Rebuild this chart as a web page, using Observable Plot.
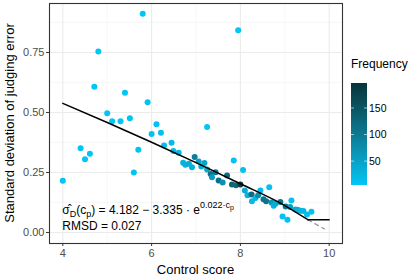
<!DOCTYPE html>
<html><head><meta charset="utf-8">
<script src="https://cdn.jsdelivr.net/npm/d3@7"></script>
<script src="https://cdn.jsdelivr.net/npm/@observablehq/plot@0.6"></script>
<style>
body{margin:0;background:#fff;}
svg{font-family:"Liberation Sans",Arial,sans-serif;}
</style>
</head><body><div id="chart"></div>
<script>
// Observed points: control score, SD of judging error, frequency
const score = [4.00,4.40,4.50,4.61,4.71,4.80,5.00,5.11,5.30,5.40,5.51,5.60,5.70,5.80,5.91,6.00,6.11,6.21,6.28,6.45,6.49,6.61,6.71,6.76,6.84,6.91,6.97,7.06,7.12,7.19,7.25,7.25,7.33,7.36,7.44,7.51,7.60,7.70,7.81,7.85,7.90,7.95,8.00,8.06,8.10,8.16,8.25,8.26,8.34,8.40,8.45,8.52,8.58,8.65,8.70,8.75,8.79,8.90,8.95,9.02,9.06,9.12,9.15,9.24,9.29,9.36,9.42,9.50,9.60];
const sd    = [0.215,0.351,0.305,0.328,0.607,0.754,0.497,0.463,0.463,0.582,0.476,0.250,0.345,0.911,0.543,0.410,0.451,0.415,0.362,0.374,0.339,0.332,0.290,0.282,0.286,0.272,0.314,0.296,0.275,0.289,0.262,0.439,0.244,0.230,0.251,0.217,0.208,0.237,0.200,0.300,0.197,0.843,0.200,0.260,0.175,0.155,0.158,0.130,0.144,0.155,0.175,0.138,0.130,0.188,0.125,0.111,0.120,0.127,0.067,0.108,0.053,0.106,0.133,0.096,0.095,0.090,0.089,0.075,0.086];
const freq  = [5,5,5,5,5,5,6,6,6,6,8,8,8,6,10,10,10,12,15,18,20,22,28,30,35,32,95,50,35,45,40,5,110,55,100,115,70,120,130,10,125,5,190,12,35,28,120,18,25,80,15,105,110,10,65,28,35,115,10,100,10,55,10,40,32,28,22,15,10];

// Fitted curve
const fitX = [4,5,6,7,8,9,9.52];
const fitY = [0.538,0.458,0.376,0.291,0.203,0.112,0.053];
const plateauX = [9.52,10];
const plateauY = [0.053,0.053];
const extrapX = [9.52,9.89];
const extrapY = [0.053,0.015];

const xTicks = [4,6,8,10];
const xMinor = [5,7,9];
const yTicks = [0,0.25,0.5,0.75];
const yMinor = [0.125,0.375,0.625,0.875];
const legendTicks = [50,100,150];

const lowColor = "#00C6F6";
const highColor = "#07353A";
const colorDomain = [5,197];

const pts = score.map((s,i)=>({score:s, sd:sd[i], freq:freq[i]}));
const fit = fitX.map((x,i)=>({x, y:fitY[i]}));
const plateau = plateauX.map((x,i)=>({x, y:plateauY[i]}));
const extrap = extrapX.map((x,i)=>({x, y:extrapY[i]}));

const plot = Plot.plot({
  width: 415, height: 277,
  marginLeft: 49, marginRight: 73, marginTop: 3, marginBottom: 34,
  style: {fontFamily: '"Liberation Sans",Arial,sans-serif', background: "#fff"},
  x: {domain: [3.7, 10.3]},
  y: {domain: [-0.046, 0.954]},
  color: {type: "linear", domain: colorDomain, range: [lowColor, highColor], interpolate: "lab"},
  marks: [
    Plot.ruleX(xMinor, {stroke: "#f2f2f2", strokeWidth: 0.6}),
    Plot.ruleY(yMinor, {stroke: "#f2f2f2", strokeWidth: 0.6}),
    Plot.ruleX(xTicks, {stroke: "#ebebeb", strokeWidth: 1.1}),
    Plot.ruleY(yTicks, {stroke: "#ebebeb", strokeWidth: 1.1}),
    Plot.dot(pts, {x: "score", y: "sd", fill: "freq", r: 3, stroke: null}),
    Plot.line(extrap, {x: "x", y: "y", stroke: "#9a9a9a", strokeWidth: 1.3, strokeDasharray: "4,4"}),
    Plot.line(fit, {x: "x", y: "y", stroke: "#000", strokeWidth: 1.5, curve: "monotone-x"}),
    Plot.line(plateau, {x: "x", y: "y", stroke: "#000", strokeWidth: 1.5}),
    Plot.frame({stroke: "#333", strokeWidth: 1.1}),
    Plot.axisX(xTicks, {tickSize: 3, tickPadding: 3, fontSize: 11, fill: "#4d4d4d", stroke: "#333", label: null}),
    Plot.axisY(yTicks, {tickSize: 3, tickPadding: 2, fontSize: 11, fill: "#4d4d4d", stroke: "#333", label: null, tickFormat: d3.format(".2f")})
  ]
});
document.getElementById("chart").appendChild(plot);

const svg = d3.select(plot);
const xs = plot.scale("x"), ys = plot.scale("y"), cs = plot.scale("color");
const X = v => xs.apply(v), Y = v => ys.apply(v);

// axis titles
svg.append("text").attr("x", (X(3.7)+X(10.3))/2).attr("y", 274).attr("text-anchor","middle")
  .attr("font-size", 13).attr("fill","#000").text("Control score");
svg.append("text").attr("transform", `translate(14,${(Y(-0.046)+Y(0.954))/2}) rotate(-90)`).attr("text-anchor","middle")
  .attr("font-size", 13).attr("fill","#000").text("Standard deviation of judging error");

// annotation
const ann = svg.append("text").attr("x", X(4)).attr("y", Y(0.075)).attr("text-anchor","start").attr("font-size", 12).attr("fill","#000");
ann.append("tspan").text("σ\u0302");
ann.append("tspan").attr("dy", 3).attr("font-size", 9).text("D");
ann.append("tspan").attr("dy", -3).text("(c");
ann.append("tspan").attr("dy", 3).attr("font-size", 9).text("p");
ann.append("tspan").attr("dy", -3).text(") = 4.182 \u2212 3.335 \u00B7 e");
ann.append("tspan").attr("dy", -6).attr("font-size", 9).text("0.022\u00B7c");
ann.append("tspan").attr("dy", 2).attr("font-size", 7).text("p");
svg.append("text").attr("x", X(4)).attr("y", Y(0.010)).attr("text-anchor","start").attr("font-size", 12).attr("fill","#000").text("RMSD = 0.027");

// colour legend
const lx = 351, ly0 = 83, ly1 = 185, lw = 16;
const defs = svg.append("defs");
const grad = defs.append("linearGradient").attr("id","fgrad").attr("x1",0).attr("y1",1).attr("x2",0).attr("y2",0);
d3.range(0, 1.0001, 0.05).forEach(t => {
  const v = colorDomain[0] + t*(colorDomain[1]-colorDomain[0]);
  grad.append("stop").attr("offset", t).attr("stop-color", cs.apply(v));
});
svg.append("text").attr("x", lx).attr("y", 68).attr("text-anchor","start").attr("font-size", 12).attr("fill","#000").text("Frequency");
svg.append("rect").attr("x", lx).attr("y", ly0).attr("width", lw).attr("height", ly1-ly0).attr("fill","url(#fgrad)");
const LY = v => ly1 - (v-colorDomain[0])/(colorDomain[1]-colorDomain[0])*(ly1-ly0);
legendTicks.forEach(v => {
  const y = LY(v);
  svg.append("line").attr("x1", lx).attr("x2", lx+3).attr("y1", y).attr("y2", y).attr("stroke","#fff").attr("stroke-opacity",0.6);
  svg.append("line").attr("x1", lx+lw-3).attr("x2", lx+lw).attr("y1", y).attr("y2", y).attr("stroke","#fff").attr("stroke-opacity",0.6);
  svg.append("text").attr("x", lx+lw+2).attr("y", y).attr("dy","0.35em").attr("text-anchor","start").attr("font-size", 10.5).attr("fill","#000").text(v);
});
</script>
</body></html>
